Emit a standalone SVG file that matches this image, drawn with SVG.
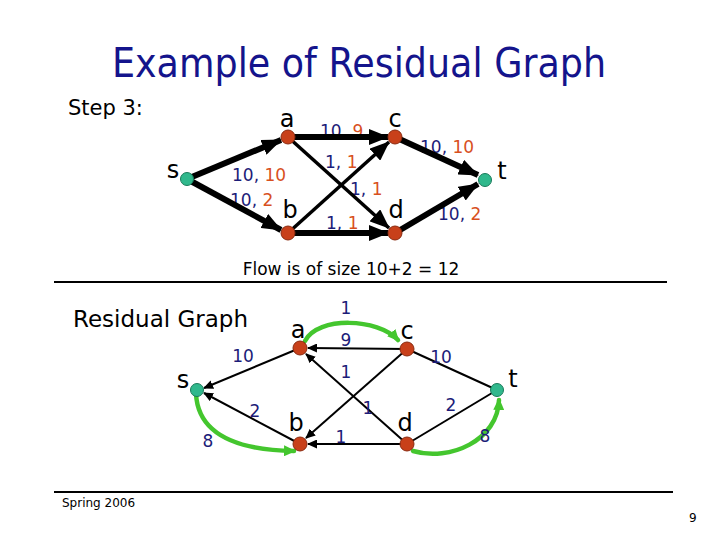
<svg xmlns="http://www.w3.org/2000/svg" width="720" height="540" viewBox="0 0 720 540">
<defs>
<style>
text{font-family:"DejaVu Sans","Liberation Sans",sans-serif}
.title{font-size:40px;fill:#14148c}
.sub{font-size:21px;fill:#000}
.nl{font-size:24px;fill:#000;text-anchor:middle}
.el{font-size:17px;fill:#1c1c78}
.elm{font-size:17px;fill:#1c1c78;text-anchor:middle}
.o{fill:#d8501e}
.thick{stroke:#000;stroke-width:6;fill:none;marker-end:url(#big)}
.med{stroke:#000;stroke-width:3.5;fill:none;marker-end:url(#big)}
.thin{stroke:#000;stroke-width:2;fill:none}
.tha{stroke:#000;stroke-width:2;fill:none;marker-end:url(#small)}
.green{stroke:#44c62e;stroke-width:4.5;fill:none;stroke-linecap:round;marker-end:url(#gr)}
.rn{fill:#c8401a;stroke:#8a2a10;stroke-width:1}
.gn{fill:#30b88c;stroke:#1a7a5a;stroke-width:1}
.rule{stroke:#000;stroke-width:2}
.foot{font-size:12px;fill:#000}
</style>
<marker id="big" markerUnits="userSpaceOnUse" markerWidth="20" markerHeight="16" refX="19" refY="8" orient="auto"><path d="M0,0 L20,8 L0,16 z" fill="#000"/></marker>
<marker id="small" markerUnits="userSpaceOnUse" markerWidth="10" markerHeight="9" refX="9" refY="4.5" orient="auto"><path d="M0,0 L10,4.5 L0,9 z" fill="#000"/></marker>
<marker id="gr" markerUnits="userSpaceOnUse" markerWidth="12" markerHeight="11" refX="10" refY="5.5" orient="auto"><path d="M0,0 L12,5.5 L0,11 z" fill="#44c62e"/></marker>
</defs>
<rect width="720" height="540" fill="#fff"/>
<text class="title" x="359" y="77" text-anchor="middle" textLength="494" lengthAdjust="spacingAndGlyphs">Example of Residual Graph</text>
<text class="sub" x="68" y="115">Step 3:</text>
<text x="351" y="275" text-anchor="middle" style="font-size:17px">Flow is of size 10+2 = 12</text>
<line class="rule" x1="54" y1="282" x2="667" y2="282"/>
<text x="73" y="327" style="font-size:23px">Residual Graph</text>
<line class="rule" x1="54" y1="492" x2="673" y2="492"/>
<text class="foot" x="62" y="507">Spring 2006</text>
<text class="foot" x="689" y="522">9</text>

<g id="labels-top">
<text class="el" x="320" y="137">10, <tspan class="o">9</tspan></text>
<text class="el" x="325" y="168">1, <tspan class="o">1</tspan></text>
<text class="el" x="232" y="181">10, <tspan class="o">10</tspan></text>
<text class="el" x="230" y="206">10, <tspan class="o">2</tspan></text>
<text class="el" x="350" y="195">1, <tspan class="o">1</tspan></text>
<text class="el" x="326" y="229">1, <tspan class="o">1</tspan></text>
<text class="el" x="420" y="153">10, <tspan class="o">10</tspan></text>
<text class="el" x="438" y="220">10, <tspan class="o">2</tspan></text>
</g>

<g id="connectors-top">
<line class="thick" x1="187" y1="179" x2="281" y2="140"/>
<line class="thick" x1="187" y1="179" x2="281" y2="230"/>
<line class="thick" x1="288" y1="137" x2="388" y2="137"/>
<line class="thick" x1="395" y1="137" x2="478" y2="175"/>
<line class="thick" x1="288" y1="233" x2="388" y2="233"/>
<line class="thick" x1="395" y1="233" x2="478" y2="184"/>
<line class="med" x1="288" y1="137" x2="389" y2="228"/>
<line class="med" x1="288" y1="233" x2="389" y2="142"/>
</g>

<g id="top-s"><circle class="gn" cx="187" cy="179" r="6.5"/><text class="nl" x="173" y="178">s</text></g>
<g id="top-a"><circle class="rn" cx="288" cy="137" r="7"/><text class="nl" x="287" y="127">a</text></g>
<g id="top-c"><circle class="rn" cx="395" cy="137" r="7"/><text class="nl" x="395" y="127">c</text></g>
<g id="top-b"><circle class="rn" cx="288" cy="233" r="7"/><text class="nl" x="290" y="218">b</text></g>
<g id="top-d"><circle class="rn" cx="395" cy="233" r="7"/><text class="nl" x="396" y="218">d</text></g>
<g id="top-t"><circle class="gn" cx="485" cy="180" r="6.5"/><text class="nl" x="502" y="179">t</text></g>

<g id="connectors-residual">
<line class="tha" x1="300" y1="348" x2="204" y2="388"/>
<line class="tha" x1="300" y1="444" x2="204" y2="393"/>
<line class="tha" x1="407" y1="349" x2="308" y2="348"/>
<line class="tha" x1="407" y1="349" x2="306" y2="438"/>
<line class="tha" x1="407" y1="444" x2="306" y2="354"/>
<line class="tha" x1="407" y1="444" x2="308" y2="444"/>
<line class="thin" x1="407" y1="349" x2="497" y2="390"/>
<line class="thin" x1="407" y1="444" x2="497" y2="390"/>
<path class="green" d="M305,341 C318,316 378,318 398,340"/>
<path class="green" d="M196,394 C198,430 230,450 294,451"/>
<path class="green" d="M413,451 C450,462 498,440 499,400"/>
<text class="elm" x="346" y="314">1</text>
<text class="elm" x="346" y="346">9</text>
<text class="elm" x="243" y="362">10</text>
<text class="elm" x="346" y="378">1</text>
<text class="elm" x="441" y="363">10</text>
<text class="elm" x="255" y="417">2</text>
<text class="elm" x="208" y="447">8</text>
<text class="elm" x="368" y="414">1</text>
<text class="elm" x="341" y="443">1</text>
<text class="elm" x="451" y="411">2</text>
<text class="elm" x="485" y="442">8</text>
</g>

<g id="res-s"><circle class="gn" cx="197" cy="390" r="6.5"/><text class="nl" x="183" y="388">s</text></g>
<g id="res-a"><circle class="rn" cx="300" cy="348" r="7"/><text class="nl" x="298" y="338">a</text></g>
<g id="res-c"><circle class="rn" cx="407" cy="349" r="7"/><text class="nl" x="407" y="339">c</text></g>
<g id="res-b"><circle class="rn" cx="300" cy="444" r="7"/><text class="nl" x="296" y="431">b</text></g>
<g id="res-d"><circle class="rn" cx="407" cy="444" r="7"/><text class="nl" x="405" y="431">d</text></g>
<g id="res-t"><circle class="gn" cx="497" cy="390" r="6.5"/><text class="nl" x="513" y="387">t</text></g>
</svg>
